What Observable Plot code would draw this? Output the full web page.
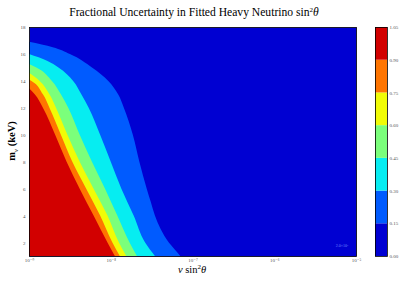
<!DOCTYPE html>
<html>
<head>
<meta charset="utf-8">
<script src="https://cdn.jsdelivr.net/npm/d3@7"></script>
<script src="https://cdn.jsdelivr.net/npm/@observablehq/plot@0.6"></script>
<style>
  html, body { margin: 0; padding: 0; background: #fff; }
  #wrap { position: relative; width: 413px; height: 284px; overflow: hidden; }
  #main, #cbar { position: absolute; top: 0; }
  #main { left: 0; }
  #cbar { left: 368px; }
  svg { overflow: visible; }
</style>
</head>
<body>
<div id="wrap"><div id="main"></div><div id="cbar"></div></div>
<script>
// contour levels and band colours (jet)
const levels = [0, 0.15, 0.30, 0.45, 0.60, 0.75, 0.90, 1.05];
const levelLabels = ["0.00", "0.15", "0.30", "0.45", "0.60", "0.75", "0.90", "1.05"];
const bandColors = ["#0000d2", "#005bff", "#06edf1", "#7bff7b", "#f1fc06", "#ff7500", "#d20000"];

// x ticks (sin^2 theta) and y ticks (mass, keV)
const xTicks = [1e-9, 1e-8, 1e-7, 1e-6, 1e-5];
const xTickLabels = ["10⁻⁹", "10⁻⁸", "10⁻⁷", "10⁻⁶", "10⁻⁵"];
const yTicks = [2, 4, 6, 8, 10, 12, 14, 16, 18];

// contour boundaries: mass (keV) and log10(sin^2 theta) of each level line
const mass015 = [1, 1.5, 2, 3, 4, 5, 6, 8, 10, 12, 13, 14, 15, 16, 16.5, 16.9];
const exp015  = [-7.15, -7.22, -7.29, -7.39, -7.46, -7.51, -7.56, -7.65, -7.73, -7.84, -7.91, -8.03, -8.23, -8.50, -8.71, -9.0];
const mass030 = [1, 2, 4, 6, 8, 10, 12, 13, 14, 15, 15.5, 16.0];
const exp030  = [-7.46, -7.58, -7.72, -7.87, -8.00, -8.13, -8.27, -8.36, -8.46, -8.64, -8.78, -9.0];
const mass045 = [1, 2, 4, 6, 8, 10, 12, 13, 14, 15, 15.25];
const exp045  = [-7.68, -7.77, -7.92, -8.07, -8.23, -8.38, -8.52, -8.61, -8.72, -8.91, -9.0];
const mass060 = [1, 2, 4, 6, 8, 10, 12, 13, 14, 14.6];
const exp060  = [-7.81, -7.90, -8.04, -8.21, -8.38, -8.53, -8.67, -8.75, -8.87, -9.0];
const mass075 = [1, 2, 4, 6, 8, 10, 12, 13, 14, 14.1];
const exp075  = [-7.89, -7.98, -8.13, -8.30, -8.47, -8.61, -8.75, -8.83, -8.97, -9.0];
const mass090 = [1, 2, 4, 6, 8, 10, 12, 13, 13.45];
const exp090  = [-7.95, -8.04, -8.21, -8.38, -8.54, -8.68, -8.83, -8.93, -9.0];

const boundaries = [
  [mass015, exp015], [mass030, exp030], [mass045, exp045],
  [mass060, exp060], [mass075, exp075], [mass090, exp090]
].map(([ms, es], i) => ({
  color: bandColors[i + 1],
  rows: ms.map((m, j) => ({m, x: Math.pow(10, es[j])}))
}));

const xmin = xTicks[0];
const serif = "'Liberation Serif', 'DejaVu Serif', serif";
const xLabelOf = d => xTickLabels[xTicks.findIndex(t => Math.abs(Math.log10(t) - Math.log10(d)) < 1e-6)];
const cLabelOf = d => levelLabels[levels.findIndex(l => Math.abs(l - d) < 1e-9)];

const main = Plot.plot({
  width: 413,
  height: 284,
  marginLeft: 29,
  marginRight: 57,
  marginTop: 27,
  marginBottom: 28,
  style: {fontFamily: serif, background: "transparent"},
  x: {type: "log", domain: [1e-9, 1e-5]},
  y: {domain: [1, 18]},
  marks: [
    Plot.frame({fill: bandColors[0]}),
    ...boundaries.map(b => Plot.areaX(b.rows, {
      y: "m", x1: () => xmin, x2: "x", fill: b.color, curve: "monotone-y", clip: true
    })),
    Plot.frame({stroke: "#000", strokeWidth: 0.8}),
    Plot.axisX({ticks: xTicks, tickFormat: xLabelOf, tickSize: 0, tickPadding: 2,
      fontSize: 5, fill: "#555", label: null}),
    Plot.axisY({ticks: yTicks, tickSize: 0, tickPadding: 4, fontSize: 5, fill: "#555", label: null}),
    Plot.text(["2.0×10⁷"], {frameAnchor: "bottom-right", dx: -8, dy: -10, fontSize: 4, fill: "#6f86ff"})
  ]
});
document.getElementById("main").appendChild(main);

// titles / axis labels as real text
const svg = d3.select(main);
const t = svg.append("text").attr("x", 194).attr("y", 16).attr("text-anchor", "middle")
  .attr("font-family", serif).attr("font-size", 11.6).attr("fill", "#000");
t.append("tspan").text("Fractional Uncertainty in Fitted Heavy Neutrino sin");
t.append("tspan").attr("dy", -4).attr("font-size", 7).text("2");
t.append("tspan").attr("dy", 4).attr("font-style", "italic").text("θ");

const xl = svg.append("text").attr("x", 192).attr("y", 273).attr("text-anchor", "middle")
  .attr("font-family", serif).attr("font-size", 10.5).attr("fill", "#000");
xl.append("tspan").attr("font-style", "italic").text("ν");
xl.append("tspan").text(" sin");
xl.append("tspan").attr("dy", -4).attr("font-size", 7).text("2");
xl.append("tspan").attr("dy", 4).attr("font-style", "italic").text("θ");

const yl = svg.append("text").attr("transform", "translate(15,141) rotate(-90)").attr("text-anchor", "middle")
  .attr("font-family", serif).attr("font-size", 10.5).attr("font-weight", "bold").attr("fill", "#000");
yl.append("tspan").text("m");
yl.append("tspan").attr("dy", 2.5).attr("font-size", 7).attr("font-style", "italic").attr("font-weight", "normal").text("ν");
yl.append("tspan").attr("dy", -2.5).text(" (keV)");

// colour bar
const bands = bandColors.map((c, i) => ({lo: levels[i], hi: levels[i + 1], c}));
const cbar = Plot.plot({
  width: 45,
  height: 284,
  marginLeft: 7,
  marginRight: 26,
  marginTop: 27,
  marginBottom: 28,
  style: {fontFamily: serif, background: "transparent"},
  x: {domain: [0, 1], axis: null},
  y: {domain: [0, 1.05]},
  marks: [
    Plot.rect(bands, {x1: () => 0, x2: () => 1, y1: "lo", y2: "hi", fill: "c"}),
    Plot.frame({stroke: "#000", strokeWidth: 0.8}),
    Plot.axisY({anchor: "right", ticks: levels, tickFormat: cLabelOf, tickSize: 0,
      tickPadding: 2, fontSize: 5, fill: "#555", label: null})
  ]
});
document.getElementById("cbar").appendChild(cbar);
</script>
</body>
</html>
